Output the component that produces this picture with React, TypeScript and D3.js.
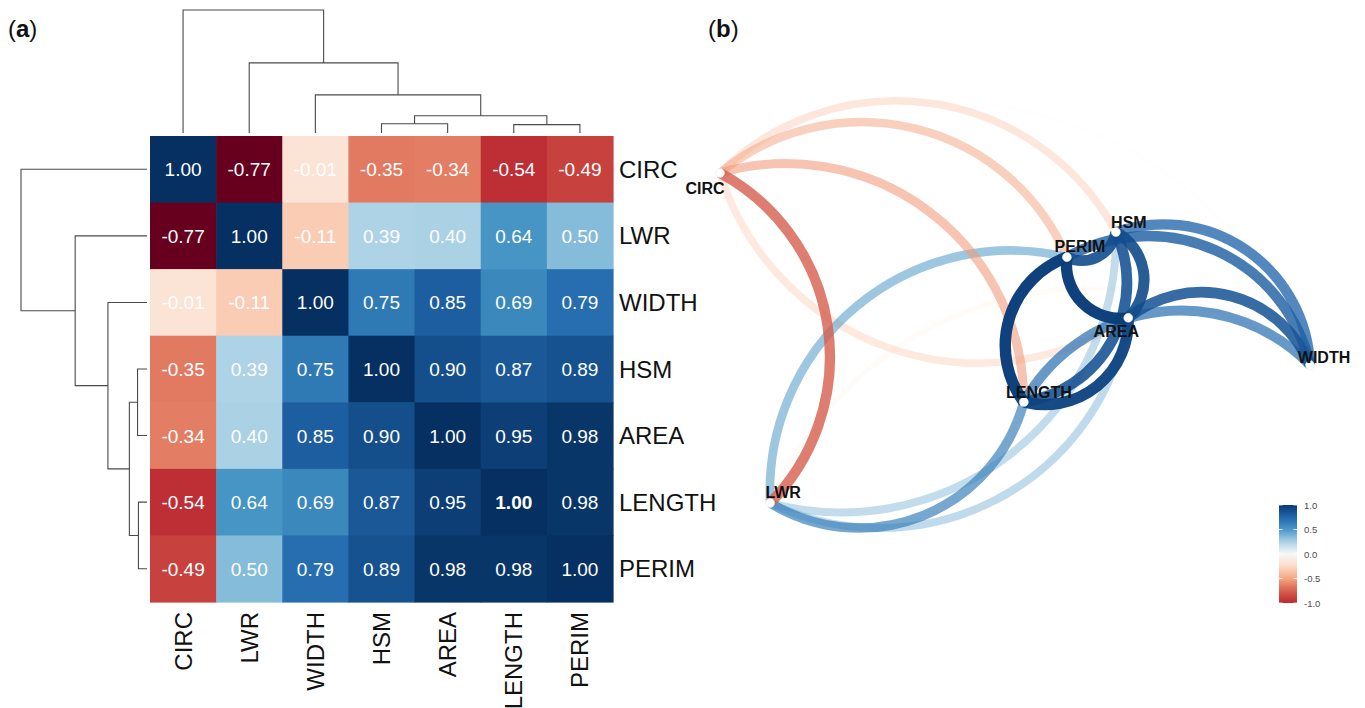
import * as d3 from "d3";
import { useEffect, useRef } from "react";

const vars = ["CIRC", "LWR", "WIDTH", "HSM", "AREA", "LENGTH", "PERIM"];

const corr = [
    [1.00, -0.77, -0.01, -0.35, -0.34, -0.54, -0.49],
    [-0.77, 1.00, -0.11, 0.39, 0.40, 0.64, 0.50],
    [-0.01, -0.11, 1.00, 0.75, 0.85, 0.69, 0.79],
    [-0.35, 0.39, 0.75, 1.00, 0.90, 0.87, 0.89],
    [-0.34, 0.40, 0.85, 0.90, 1.00, 0.95, 0.98],
    [-0.54, 0.64, 0.69, 0.87, 0.95, 1.00, 0.98],
    [-0.49, 0.50, 0.79, 0.89, 0.98, 0.98, 1.00],
];

// cell printed in bold in the original
const boldCells = [["LENGTH", "LENGTH"]];

// hclust merges [left, right, height], "mN" = result of merge N
const merges: [string, string, number][] = [
    ["HSM", "AREA", 0.075],
    ["LENGTH", "PERIM", 0.068],
    ["m1", "m2", 0.14],
    ["WIDTH", "m3", 0.31],
    ["LWR", "m4", 0.57],
    ["CIRC", "m5", 1.0],
];

// network layout coordinates (same order as vars)
const nodeX = [0, 0.085, 1, 0.671, 0.692, 0.515, 0.588];
const nodeY = [1, 0, 0.418, 0.821, 0.561, 0.306, 0.745];

// edge orientation: arc bulges to the left of from -> to
const edges: [string, string][] = [
    ["CIRC", "HSM"], ["CIRC", "PERIM"], ["CIRC", "LENGTH"], ["CIRC", "LWR"], ["AREA", "CIRC"], ["CIRC", "WIDTH"],
    ["LWR", "PERIM"], ["LENGTH", "LWR"], ["AREA", "LWR"], ["HSM", "LWR"], ["LWR", "WIDTH"],
    ["HSM", "WIDTH"], ["PERIM", "WIDTH"], ["AREA", "WIDTH"], ["LENGTH", "WIDTH"],
    ["LENGTH", "PERIM"], ["AREA", "PERIM"], ["AREA", "LENGTH"], ["HSM", "AREA"], ["HSM", "LENGTH"], ["HSM", "PERIM"],
];

const legendTicks = [1.0, 0.5, 0.0, -0.5, -1.0];

const rdbu = ["#67001f", "#b2182b", "#d6604d", "#f4a582", "#fddbc7", "#f7f7f7", "#d1e5f0", "#92c5de", "#4393c3", "#2166ac", "#053061"];
const netBreaks = [-1, -0.75, -0.5, -0.25, 0, 0.25, 0.5, 0.75, 1];
const netStops = ["#c0282e", "#d6604d", "#f4a582", "#fddbc7", "#f7f7f7", "#aed2e6", "#4c98c8", "#2166ac", "#083a75"];

const FONT = "Liberation Sans, Arial, Helvetica, sans-serif";

export default function App() {
    const svgRef = useRef(null);

    useEffect(() => {
        const svg = d3.select(svgRef.current);
        svg.selectAll("*").remove();

        // ---------- panel (a): heatmap ----------
        const x = d3.scaleBand().domain(vars).range([150, 613]);
        const y = d3.scaleBand().domain(vars).range([136, 602]);
        const flat = corr.flat();
        const vmin = d3.min(flat) as number;
        const vmax = d3.max(flat) as number;
        const heatColor = d3.scaleLinear<string>()
            .domain(d3.range(11).map(i => vmin + (vmax - vmin) * i / 10))
            .range(rdbu);

        const cells = [];
        vars.forEach((r, i) => vars.forEach((c, j) => cells.push({ r, c, v: corr[i][j] })));

        const heat = svg.append("g");
        heat.selectAll("rect")
            .data(cells)
            .join("rect")
            .attr("x", d => x(d.c))
            .attr("y", d => y(d.r))
            .attr("width", x.bandwidth() + 0.6)
            .attr("height", y.bandwidth() + 0.6)
            .attr("fill", d => heatColor(d.v));

        heat.selectAll("text")
            .data(cells)
            .join("text")
            .attr("x", d => x(d.c) + x.bandwidth() / 2)
            .attr("y", d => y(d.r) + y.bandwidth() / 2 + 7)
            .attr("text-anchor", "middle")
            .attr("font-family", FONT)
            .attr("font-size", 19)
            .attr("font-weight", d => boldCells.some(b => b[0] === d.r && b[1] === d.c) ? "bold" : "normal")
            .attr("fill", "white")
            .text(d => d.v.toFixed(2));

        svg.append("g").selectAll("text")
            .data(vars)
            .join("text")
            .attr("x", 619)
            .attr("y", d => y(d) + y.bandwidth() / 2 + 8.5)
            .attr("font-family", FONT)
            .attr("font-size", 24)
            .attr("fill", "#111")
            .text(d => d);

        svg.append("g").selectAll("text")
            .data(vars)
            .join("text")
            .attr("transform", d => `translate(${x(d) + x.bandwidth() / 2 + 8.5}, 612) rotate(-90)`)
            .attr("text-anchor", "end")
            .attr("font-family", FONT)
            .attr("font-size", 24)
            .attr("fill", "#111")
            .text(d => d);

        // dendrograms
        const pos = new Map<string, { p: number, h: number }>();
        vars.forEach((v, i) => pos.set(v, { p: i, h: 0 }));
        const links = [];
        merges.forEach(([a, b, h], i) => {
            const A = pos.get(a), B = pos.get(b);
            pos.set("m" + (i + 1), { p: (A.p + B.p) / 2, h });
            links.push({ A, B, h });
        });

        const colPos = d3.scaleLinear().domain([-0.5, 6.5]).range([150, 613]);
        const rowPos = d3.scaleLinear().domain([-0.5, 6.5]).range([136, 602]);
        const hTop = d3.scaleLinear().domain([0, 1]).range([133, 10]);
        const hLeft = d3.scaleLinear().domain([0, 1]).range([147, 21]);

        const tree = svg.append("g")
            .attr("fill", "none")
            .attr("stroke", "#4a4a4a")
            .attr("stroke-width", 1.1);

        tree.selectAll("path.top")
            .data(links)
            .join("path")
            .attr("class", "top")
            .attr("d", d => {
                const p = d3.path();
                p.moveTo(colPos(d.A.p), hTop(d.A.h));
                p.lineTo(colPos(d.A.p), hTop(d.h));
                p.lineTo(colPos(d.B.p), hTop(d.h));
                p.lineTo(colPos(d.B.p), hTop(d.B.h));
                return p.toString();
            });

        tree.selectAll("path.left")
            .data(links)
            .join("path")
            .attr("class", "left")
            .attr("d", d => {
                const p = d3.path();
                p.moveTo(hLeft(d.A.h), rowPos(d.A.p));
                p.lineTo(hLeft(d.h), rowPos(d.A.p));
                p.lineTo(hLeft(d.h), rowPos(d.B.p));
                p.lineTo(hLeft(d.B.h), rowPos(d.B.p));
                return p.toString();
            });

        // ---------- panel (b): network ----------
        const nx = d3.scaleLinear().domain([0, 1]).range([720, 1310]);
        const ny = d3.scaleLinear().domain([0, 1]).range([503, 173]);
        const netColor = d3.scaleLinear<string>().domain(netBreaks).range(netStops);
        const alpha = d3.scaleLinear().domain([0, 1]).range([0.1, 1]);
        const width = d3.scaleSqrt().domain([0, 1]).range([2, 11.5]);
        const curvature = 0.25;

        const idx = (n: string) => vars.indexOf(n);
        const edgeData = edges.map(([a, b]) => ({
            a, b,
            r: corr[idx(a)][idx(b)],
        })).sort((p, q) => Math.abs(p.r) - Math.abs(q.r));

        const arc = (d) => {
            const x1 = nx(nodeX[idx(d.a)]), y1 = ny(nodeY[idx(d.a)]);
            const x2 = nx(nodeX[idx(d.b)]), y2 = ny(nodeY[idx(d.b)]);
            const L = Math.hypot(x2 - x1, y2 - y1);
            const s = curvature * L;
            const R = (L * L / 4 + s * s) / (2 * s);
            return `M${x1},${y1}A${R},${R} 0 0 1 ${x2},${y2}`;
        };

        svg.append("g").selectAll("path")
            .data(edgeData)
            .join("path")
            .attr("d", arc)
            .attr("fill", "none")
            .attr("stroke", d => netColor(d.r))
            .attr("stroke-opacity", d => alpha(Math.abs(d.r)))
            .attr("stroke-width", d => width(Math.abs(d.r)))
            .attr("stroke-linecap", "butt");

        svg.append("g").selectAll("circle")
            .data(vars)
            .join("circle")
            .attr("cx", (d, i) => nx(nodeX[i]))
            .attr("cy", (d, i) => ny(nodeY[i]))
            .attr("r", 4.5)
            .attr("fill", "white")
            .attr("stroke", "#e8e8e8")
            .attr("stroke-width", 0.5);

        const labelOffset = {
            CIRC: [-15, 15], LWR: [13, -11], WIDTH: [14, -8], HSM: [13, -10],
            AREA: [-12, 13], LENGTH: [15, -10], PERIM: [13, -11],
        };

        svg.append("g").selectAll("text")
            .data(vars)
            .join("text")
            .attr("x", (d, i) => nx(nodeX[i]) + labelOffset[d][0])
            .attr("y", (d, i) => ny(nodeY[i]) + labelOffset[d][1] + 5.8)
            .attr("text-anchor", "middle")
            .attr("font-family", FONT)
            .attr("font-size", 16)
            .attr("font-weight", "bold")
            .attr("fill", "#111")
            .text(d => d);

        // colour bar
        const ly = d3.scaleLinear().domain([-1, 1]).range([603, 505]);
        const grad = svg.append("defs").append("linearGradient")
            .attr("id", "netgrad")
            .attr("x1", 0).attr("x2", 0).attr("y1", 1).attr("y2", 0);
        grad.selectAll("stop")
            .data(d3.range(0, 1.001, 0.05))
            .join("stop")
            .attr("offset", d => d)
            .attr("stop-color", d => netColor(-1 + 2 * d));

        svg.append("rect")
            .attr("x", 1279)
            .attr("y", ly(1))
            .attr("width", 18)
            .attr("height", ly(-1) - ly(1))
            .attr("fill", "url(#netgrad)");

        const lt = svg.append("g");
        lt.selectAll("path")
            .data(legendTicks)
            .join("path")
            .attr("d", d => `M1279,${ly(d)}h3.5M1293.5,${ly(d)}h3.5`)
            .attr("stroke", "white")
            .attr("stroke-width", 0.8);
        lt.selectAll("text")
            .data(legendTicks)
            .join("text")
            .attr("x", 1304)
            .attr("y", d => ly(d) + 3.5)
            .attr("font-family", FONT)
            .attr("font-size", 9.5)
            .attr("fill", "#4d4d4d")
            .text(d => d.toFixed(1));

        // panel tags
        const tags = [["a", 8], ["b", 708]];
        tags.forEach(([t, px]) => {
            const tx = svg.append("text")
                .attr("x", px)
                .attr("y", 37)
                .attr("font-family", FONT)
                .attr("font-size", 24)
                .attr("fill", "#111");
            tx.append("tspan").text("(");
            tx.append("tspan").attr("font-weight", "bold").text(t);
            tx.append("tspan").text(")");
        });
    }, []);

    return <svg ref={svgRef} width={1365} height={708}
        style={{ position: "absolute", left: 0, top: 0, background: "white" }} />;
}
